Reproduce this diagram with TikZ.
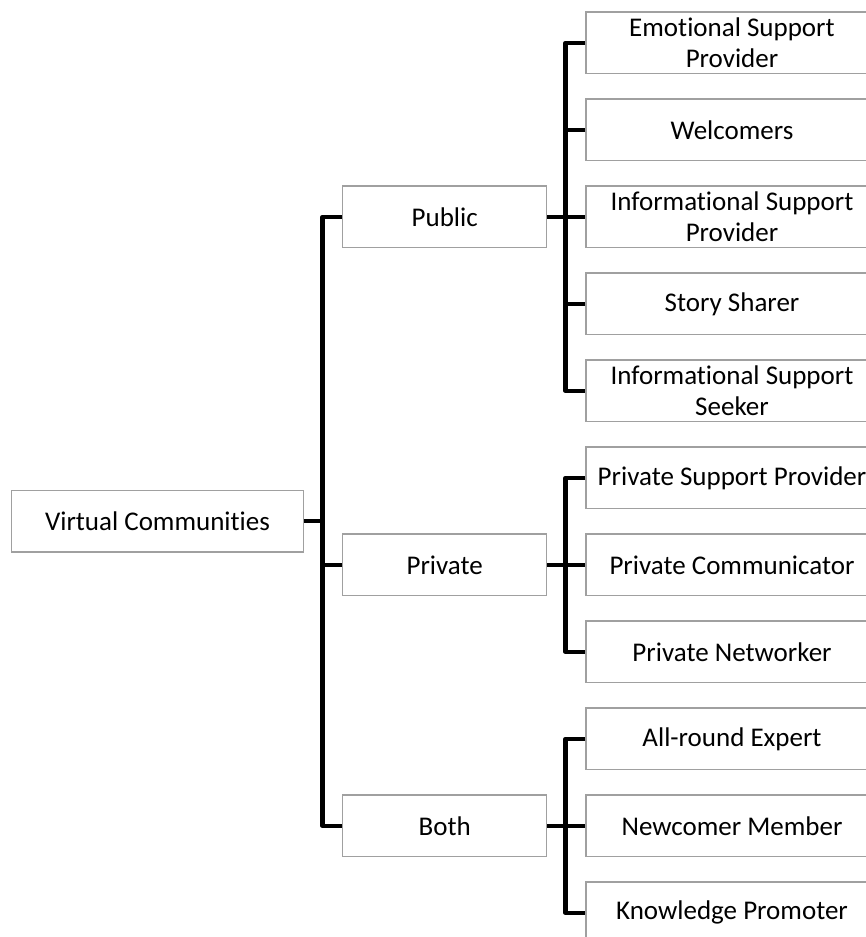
\documentclass[tikz,border=0pt]{standalone}
\usepackage{fontspec}
\setmainfont{Carlito}[Ligatures=NoCommon]
\definecolor{boxline}{RGB}{160,160,160}
\begin{document}
\begin{tikzpicture}[x=1pt,y=-1pt,
  box/.style={draw=boxline,line width=1.3pt,fill=white,inner sep=0pt,
    minimum height=61.7pt,align=center,
    font=\fontsize{27}{31}\selectfont},
  rootbox/.style={box,minimum width=291.6pt},
  midbox/.style={box,minimum width=204pt},
  leafbox/.style={box,minimum width=292pt},
  conn/.style={draw=black,line width=4.6pt,line join=round}]
\clip (0,0) rectangle (866,937);

% root and the three community kinds
\node[rootbox] (vc)   at (157.5,521) {Virtual Communities};
\node[midbox]  (pub)  at (444.7,216.85) {Public};
\node[midbox]  (priv) at (444.7,564.85) {Private};
\node[midbox]  (both) at (444.7,825.85) {Both};

% member roles
\node[leafbox] (l1)  at (732,42.85)  {Emotional Support\\Provider};
\node[leafbox] (l2)  at (732,129.85) {Welcomers};
\node[leafbox] (l3)  at (732,216.85) {Informational Support\\Provider};
\node[leafbox] (l4)  at (732,303.85) {Story Sharer};
\node[leafbox] (l5)  at (732,390.85) {Informational Support\\Seeker};
\node[leafbox] (l6)  at (732,477.85) {Private Support Provider};
\node[leafbox] (l7)  at (732,564.85) {Private Communicator};
\node[leafbox] (l8)  at (732,651.85) {Private Networker};
\node[leafbox] (l9)  at (732,738.85) {All-round Expert};
\node[leafbox] (l10) at (732,825.85) {Newcomer Member};
\node[leafbox] (l11) at (732,912.85) {Knowledge Promoter};

% trunk positions
\coordinate (t0) at (322.7,521);
\coordinate (ta) at (565.5,216.85);
\coordinate (tb) at (565.5,564.85);
\coordinate (tc) at (565.5,825.85);

% root to the community kinds
\draw[conn] (pub.west) -| (t0) |- (both.west);
\draw[conn] (vc.east) -- (t0);
\draw[conn] (priv.west) -- (priv.west -| t0);

% public roles
\draw[conn] (l1.west) -| (ta) |- (l5.west);
\draw[conn] (pub.east) -- (l3.west);
\draw[conn] (l2.west) -- (l2.west -| ta);
\draw[conn] (l4.west) -- (l4.west -| ta);

% private roles
\draw[conn] (l6.west) -| (tb) |- (l8.west);
\draw[conn] (priv.east) -- (l7.west);

% roles in both
\draw[conn] (l9.west) -| (tc) |- (l11.west);
\draw[conn] (both.east) -- (l10.west);
\end{tikzpicture}
\end{document}
